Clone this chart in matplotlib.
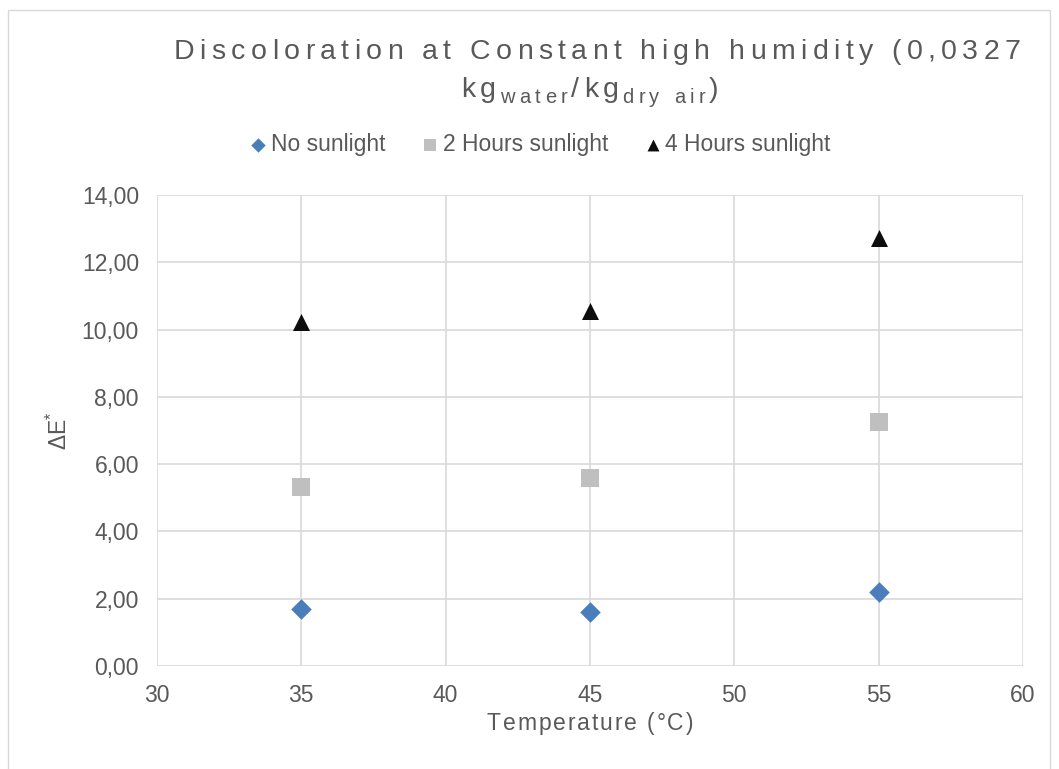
import matplotlib.pyplot as plt
from matplotlib.patches import Rectangle
from matplotlib.ticker import FuncFormatter
from matplotlib.transforms import IdentityTransform
from matplotlib.font_manager import findfont, FontProperties
from matplotlib.ft2font import FT2Font

plt.rcParams['font.family'] = ['Liberation Sans', 'DejaVu Sans']
plt.rcParams['mathtext.fontset'] = 'custom'
plt.rcParams['mathtext.rm'] = 'Liberation Sans'

temperature = [35, 45, 55]
no_sun = [1.70, 1.61, 2.21]
two_hours = [5.33, 5.58, 7.24]
four_hours = [10.22, 10.54, 12.73]

series_names = ['No sunlight', '2 Hours sunlight', '4 Hours sunlight']
x_ticks = [30, 35, 40, 45, 50, 55, 60]
y_ticks = [0, 2, 4, 6, 8, 10, 12, 14]

text_col = '#595959'
grid_col = '#d9d9d9'
W, H, DPI = 1059, 769, 100

fig = plt.figure(figsize=(W / DPI, H / DPI), dpi=DPI)
ax = fig.add_axes([157 / W, 1 - 666 / H, 866 / W, 471 / H])

# font used for the letter-spaced captions
_font = FT2Font(findfont(FontProperties(family='Liberation Sans')))


def advance(ch, size):
    _font.set_size(size, DPI)
    g = _font.load_char(ord(ch))
    return g.linearHoriAdvance / 65536


def spaced_text(segments, xc, baseline, spacing):
    """Draw runs of (text, size, drop) centred on xc with extra tracking (pixels)."""
    chars = [(ch, size, drop) for txt, size, drop in segments for ch in txt]
    widths = [advance(ch, size) for ch, size, _ in chars]
    total = sum(widths) + spacing * (len(chars) - 1)
    x = xc - total / 2
    for (ch, size, drop), w in zip(chars, widths):
        fig.text(x, H - baseline - drop, ch, fontsize=size, color=text_col,
                 ha='left', va='baseline', transform=IdentityTransform())
        x += w + spacing


# outer chart frame
fig.patches.append(Rectangle((8 / W, -0.01), 1042 / W, 1 - 10 / H + 0.01,
                             transform=fig.transFigure, fill=False,
                             edgecolor=grid_col, linewidth=1))

ax.scatter(temperature, no_sun, marker='D', s=110, color='#4a7ebb',
           label=series_names[0], zorder=3, linewidths=0)
ax.scatter(temperature, two_hours, marker='s', s=165, color='#bfbfbf',
           label=series_names[1], zorder=3, linewidths=0)
ax.scatter(temperature, four_hours, marker='^', s=150, color='#0d0d0d',
           label=series_names[2], zorder=3, linewidths=0)

ax.set_xlim(30, 60)
ax.set_ylim(0, 14)
ax.set_xticks(x_ticks)
ax.set_yticks(y_ticks)
ax.yaxis.set_major_formatter(FuncFormatter(lambda v, p: f'{v:.2f}'.replace('.', ',')))
ax.grid(True, color=grid_col, linewidth=1.2)
ax.set_axisbelow(True)
for s in ax.spines.values():
    s.set_visible(False)
ax.tick_params(length=0, labelsize=16.5, colors=text_col)
ax.tick_params(axis='y', pad=13)
ax.tick_params(axis='x', pad=13)

ax.set_ylabel(r'ΔE$\mathregular{^{*}}$', fontsize=16.5, color=text_col)
ax.yaxis.set_label_coords(-0.098, 0.5)

# title, legend and x-axis caption
spaced_text([('Discoloration at Constant high humidity (0,0327', 20.5, 0)], 597, 59, 5.4)
spaced_text([('kg', 20.5, 0), ('water', 14.5, 6), ('/kg', 20.5, 0), ('dry air', 14.5, 6),
             (')', 20.5, 0)], 590, 97, 4.4)
spaced_text([('Temperature (°C)', 16.5, 0)], 590, 730, 1.9)

leg = fig.legend(loc='center', bbox_to_anchor=(541 / W, 1 - 145 / H), ncol=3,
                 frameon=False, fontsize=16.5, handlelength=0.6, handletextpad=0.25,
                 columnspacing=1.65, markerscale=0.7)
for t in leg.get_texts():
    t.set_color(text_col)

plt.savefig('out.png', dpi=DPI)
